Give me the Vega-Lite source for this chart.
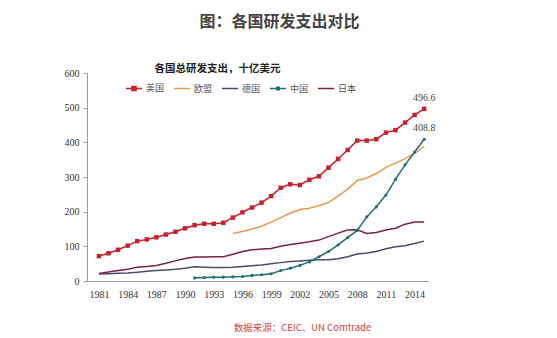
{
  "$schema": "https://vega.github.io/schema/vega-lite/v6.json",
  "width": 341,
  "height": 208,
  "autosize": {"type": "none"},
  "padding": {"left": 87, "top": 73, "right": 129, "bottom": 57},
  "background": "white",
  "title": {
    "text": "图：各国研发支出对比",
    "fontSize": 16,
    "fontWeight": "bold",
    "color": "#444444",
    "font": "Noto Sans CJK SC",
    "anchor": "middle",
    "frame": "group",
    "dx": 22,
    "offset": 33
  },
  "config": {
    "view": {"stroke": null},
    "font": "Noto Sans CJK SC",
    "axisX": {"labelOverlap": false, "labelSeparation": 0},
    "legend": {
      "orient": "none",
      "legendX": 38,
      "legendY": 6,
      "direction": "horizontal",
      "title": null,
      "symbolSize": 256,
      "symbolStrokeWidth": 1.5,
      "labelFont": "Noto Sans CJK SC",
      "labelFontSize": 9,
      "labelColor": "#555555",
      "labelOffset": 3,
      "columnPadding": 6
    }
  },
  "datasets": {
    "rd": [
      {"year": 1981, "country": "美国", "value": 72},
      {"year": 1982, "country": "美国", "value": 80},
      {"year": 1983, "country": "美国", "value": 90},
      {"year": 1984, "country": "美国", "value": 102},
      {"year": 1985, "country": "美国", "value": 115},
      {"year": 1986, "country": "美国", "value": 120},
      {"year": 1987, "country": "美国", "value": 126},
      {"year": 1988, "country": "美国", "value": 134},
      {"year": 1989, "country": "美国", "value": 142},
      {"year": 1990, "country": "美国", "value": 152},
      {"year": 1991, "country": "美国", "value": 161},
      {"year": 1992, "country": "美国", "value": 165},
      {"year": 1993, "country": "美国", "value": 165},
      {"year": 1994, "country": "美国", "value": 168},
      {"year": 1995, "country": "美国", "value": 183},
      {"year": 1996, "country": "美国", "value": 198},
      {"year": 1997, "country": "美国", "value": 212},
      {"year": 1998, "country": "美国", "value": 226},
      {"year": 1999, "country": "美国", "value": 245},
      {"year": 2000, "country": "美国", "value": 269},
      {"year": 2001, "country": "美国", "value": 279},
      {"year": 2002, "country": "美国", "value": 277},
      {"year": 2003, "country": "美国", "value": 292},
      {"year": 2004, "country": "美国", "value": 302},
      {"year": 2005, "country": "美国", "value": 327},
      {"year": 2006, "country": "美国", "value": 352},
      {"year": 2007, "country": "美国", "value": 378},
      {"year": 2008, "country": "美国", "value": 405},
      {"year": 2009, "country": "美国", "value": 405},
      {"year": 2010, "country": "美国", "value": 409},
      {"year": 2011, "country": "美国", "value": 428},
      {"year": 2012, "country": "美国", "value": 435},
      {"year": 2013, "country": "美国", "value": 457},
      {"year": 2014, "country": "美国", "value": 479},
      {"year": 2015, "country": "美国", "value": 496.6},
      {"year": 1995, "country": "欧盟", "value": 137},
      {"year": 1996, "country": "欧盟", "value": 143},
      {"year": 1997, "country": "欧盟", "value": 150},
      {"year": 1998, "country": "欧盟", "value": 158},
      {"year": 1999, "country": "欧盟", "value": 170},
      {"year": 2000, "country": "欧盟", "value": 183},
      {"year": 2001, "country": "欧盟", "value": 196},
      {"year": 2002, "country": "欧盟", "value": 206},
      {"year": 2003, "country": "欧盟", "value": 210},
      {"year": 2004, "country": "欧盟", "value": 218},
      {"year": 2005, "country": "欧盟", "value": 226},
      {"year": 2006, "country": "欧盟", "value": 245},
      {"year": 2007, "country": "欧盟", "value": 265},
      {"year": 2008, "country": "欧盟", "value": 290},
      {"year": 2009, "country": "欧盟", "value": 297},
      {"year": 2010, "country": "欧盟", "value": 310},
      {"year": 2011, "country": "欧盟", "value": 328},
      {"year": 2012, "country": "欧盟", "value": 340},
      {"year": 2013, "country": "欧盟", "value": 353},
      {"year": 2014, "country": "欧盟", "value": 368},
      {"year": 2015, "country": "欧盟", "value": 388},
      {"year": 1981, "country": "德国", "value": 20},
      {"year": 1982, "country": "德国", "value": 21},
      {"year": 1983, "country": "德国", "value": 22},
      {"year": 1984, "country": "德国", "value": 23},
      {"year": 1985, "country": "德国", "value": 25},
      {"year": 1986, "country": "德国", "value": 28},
      {"year": 1987, "country": "德国", "value": 30},
      {"year": 1988, "country": "德国", "value": 32},
      {"year": 1989, "country": "德国", "value": 34},
      {"year": 1990, "country": "德国", "value": 37},
      {"year": 1991, "country": "德国", "value": 41},
      {"year": 1992, "country": "德国", "value": 40},
      {"year": 1993, "country": "德国", "value": 39},
      {"year": 1994, "country": "德国", "value": 39},
      {"year": 1995, "country": "德国", "value": 40},
      {"year": 1996, "country": "德国", "value": 42},
      {"year": 1997, "country": "德国", "value": 44},
      {"year": 1998, "country": "德国", "value": 46},
      {"year": 1999, "country": "德国", "value": 50},
      {"year": 2000, "country": "德国", "value": 53},
      {"year": 2001, "country": "德国", "value": 56},
      {"year": 2002, "country": "德国", "value": 58},
      {"year": 2003, "country": "德国", "value": 60},
      {"year": 2004, "country": "德国", "value": 61},
      {"year": 2005, "country": "德国", "value": 61},
      {"year": 2006, "country": "德国", "value": 64},
      {"year": 2007, "country": "德国", "value": 70},
      {"year": 2008, "country": "德国", "value": 78},
      {"year": 2009, "country": "德国", "value": 81},
      {"year": 2010, "country": "德国", "value": 85},
      {"year": 2011, "country": "德国", "value": 93},
      {"year": 2012, "country": "德国", "value": 99},
      {"year": 2013, "country": "德国", "value": 102},
      {"year": 2014, "country": "德国", "value": 108},
      {"year": 2015, "country": "德国", "value": 115},
      {"year": 1991, "country": "中国", "value": 9},
      {"year": 1992, "country": "中国", "value": 10},
      {"year": 1993, "country": "中国", "value": 11},
      {"year": 1994, "country": "中国", "value": 11},
      {"year": 1995, "country": "中国", "value": 12},
      {"year": 1996, "country": "中国", "value": 13},
      {"year": 1997, "country": "中国", "value": 16},
      {"year": 1998, "country": "中国", "value": 18},
      {"year": 1999, "country": "中国", "value": 21},
      {"year": 2000, "country": "中国", "value": 30},
      {"year": 2001, "country": "中国", "value": 37},
      {"year": 2002, "country": "中国", "value": 45},
      {"year": 2003, "country": "中国", "value": 55},
      {"year": 2004, "country": "中国", "value": 70},
      {"year": 2005, "country": "中国", "value": 85},
      {"year": 2006, "country": "中国", "value": 104},
      {"year": 2007, "country": "中国", "value": 125},
      {"year": 2008, "country": "中国", "value": 146},
      {"year": 2009, "country": "中国", "value": 185},
      {"year": 2010, "country": "中国", "value": 214},
      {"year": 2011, "country": "中国", "value": 248},
      {"year": 2012, "country": "中国", "value": 293},
      {"year": 2013, "country": "中国", "value": 335},
      {"year": 2014, "country": "中国", "value": 372},
      {"year": 2015, "country": "中国", "value": 408.8},
      {"year": 1981, "country": "日本", "value": 22},
      {"year": 1982, "country": "日本", "value": 26},
      {"year": 1983, "country": "日本", "value": 30},
      {"year": 1984, "country": "日本", "value": 34},
      {"year": 1985, "country": "日本", "value": 40},
      {"year": 1986, "country": "日本", "value": 42},
      {"year": 1987, "country": "日本", "value": 45},
      {"year": 1988, "country": "日本", "value": 51},
      {"year": 1989, "country": "日本", "value": 58},
      {"year": 1990, "country": "日本", "value": 65},
      {"year": 1991, "country": "日本", "value": 69},
      {"year": 1992, "country": "日本", "value": 69},
      {"year": 1993, "country": "日本", "value": 70},
      {"year": 1994, "country": "日本", "value": 70},
      {"year": 1995, "country": "日本", "value": 77},
      {"year": 1996, "country": "日本", "value": 85},
      {"year": 1997, "country": "日本", "value": 90},
      {"year": 1998, "country": "日本", "value": 92},
      {"year": 1999, "country": "日本", "value": 94},
      {"year": 2000, "country": "日本", "value": 100},
      {"year": 2001, "country": "日本", "value": 105},
      {"year": 2002, "country": "日本", "value": 109},
      {"year": 2003, "country": "日本", "value": 113},
      {"year": 2004, "country": "日本", "value": 118},
      {"year": 2005, "country": "日本", "value": 128},
      {"year": 2006, "country": "日本", "value": 138},
      {"year": 2007, "country": "日本", "value": 147},
      {"year": 2008, "country": "日本", "value": 148},
      {"year": 2009, "country": "日本", "value": 137},
      {"year": 2010, "country": "日本", "value": 140},
      {"year": 2011, "country": "日本", "value": 147},
      {"year": 2012, "country": "日本", "value": 152},
      {"year": 2013, "country": "日本", "value": 164},
      {"year": 2014, "country": "日本", "value": 170},
      {"year": 2015, "country": "日本", "value": 170}
    ],
    "labels": [
      {"year": 2015, "value": 496.6, "label": "496.6"},
      {"year": 2015, "value": 408.8, "label": "408.8"}
    ]
  },
  "encoding": {
    "x": {
      "field": "year",
      "type": "quantitative",
      "scale": {"domain": [1979.75, 2015.4], "nice": false, "zero": false},
      "axis": {
        "values": [1981, 1984, 1987, 1990, 1993, 1996, 1999, 2002, 2005, 2008, 2011, 2014],
        "format": "d",
        "grid": false,
        "ticks": false,
        "labelOverlap": false,
        "labelSeparation": 0,
        "labelBound": false,
        "labelPadding": 8,
        "labelFont": "Liberation Serif",
        "labelFontSize": 10,
        "labelColor": "#333333",
        "domainColor": "#999999",
        "title": "数据来源：CEIC、UN Comtrade",
        "titleFont": "Noto Sans CJK SC",
        "titleFontSize": 9.5,
        "titleFontWeight": "normal",
        "titleColor": "#D0473F",
        "titleX": 215,
        "titleY": 46,
        "titleAlign": "center",
        "titleBaseline": "middle"
      }
    },
    "y": {
      "field": "value",
      "type": "quantitative",
      "scale": {"domain": [0, 600], "nice": false},
      "axis": {
        "values": [0, 100, 200, 300, 400, 500, 600],
        "grid": false,
        "tickSize": 4,
        "tickColor": "#999999",
        "domainColor": "#999999",
        "labelPadding": 4,
        "labelFont": "Liberation Serif",
        "labelFontSize": 10,
        "labelColor": "#333333",
        "title": "各国总研发支出，十亿美元",
        "titleAngle": 0,
        "titleX": 130,
        "titleY": -5,
        "titleAlign": "center",
        "titleBaseline": "middle",
        "titleFont": "Noto Sans CJK SC",
        "titleFontSize": 10.5,
        "titleFontWeight": "bold",
        "titleColor": "#222222"
      }
    }
  },
  "layer": [
    {
      "data": {"name": "rd"},
      "mark": {"type": "line", "strokeWidth": 1.5},
      "encoding": {
        "color": {
          "field": "country",
          "type": "nominal",
          "scale": {
            "domain": ["美国", "欧盟", "德国", "中国", "日本"],
            "range": ["#C8202F", "#E89A4A", "#4B4B6E", "#1F6F6F", "#7B2240"]
          }
        },
        "detail": {"field": "country"}
      }
    },
    {
      "data": {"name": "rd"},
      "transform": [{"filter": "datum.country === '美国'"}],
      "mark": {"type": "point", "shape": "square", "filled": true, "size": 20, "opacity": 1, "color": "#C8202F"}
    },
    {
      "data": {"name": "rd"},
      "transform": [{"filter": "datum.country === '中国'"}],
      "mark": {"type": "point", "shape": "circle", "filled": true, "size": 10, "opacity": 1, "color": "#1F6F6F"}
    },
    {
      "data": {"name": "rd"},
      "transform": [{"filter": "datum.value < 0"}],
      "mark": {"type": "point", "filled": true, "opacity": 1, "strokeWidth": 1.5},
      "encoding": {
        "color": {"field": "country", "type": "nominal"},
        "shape": {
          "field": "country",
          "type": "nominal",
          "scale": {
            "domain": ["美国", "欧盟", "德国", "中国", "日本"],
            "range": [
              "M-1,0H1M-0.26,-0.26H0.26V0.26H-0.26Z",
              "M-1,0H1",
              "M-1,0H1",
              "M-1,0H1M0.2,0A0.2,0.2,0,1,1,-0.2,0A0.2,0.2,0,1,1,0.2,0Z",
              "M-1,0H1"
            ]
          },
          "legend": {"columnPadding": 6, "labelOffset": 3}
        }
      }
    },
    {
      "data": {"name": "labels"},
      "mark": {"type": "text", "font": "Liberation Serif", "fontSize": 10, "color": "#444444", "dy": -11, "align": "center"},
      "encoding": {
        "text": {"field": "label"}
      }
    }
  ]
}
